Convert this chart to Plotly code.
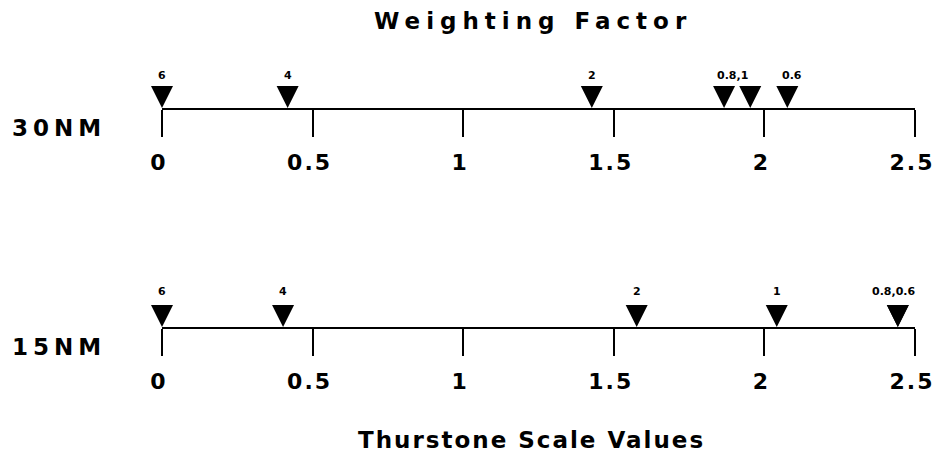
import plotly.graph_objects as go

# ---- data ----
rows = ["30NM", "15NM"]
tick_values = [0, 0.5, 1, 1.5, 2, 2.5]
tick_labels = ["0", "0.5", "1", "1.5", "2", "2.5"]

# Thurstone scale values for each weighting factor
top_values = [0, 0.417, 1.427, 1.866, 1.953, 2.076]
top_weights = ["6", "4", "2", "0.8", "1", "0.6"]
top_label_x = [0, 0.417, 1.427, 1.895, 2.09]
top_label_text = ["6", "4", "2", "0.8,1", "0.6"]

bottom_values = [0, 0.402, 1.576, 2.041, 2.443, 2.443]
bottom_weights = ["6", "4", "2", "1", "0.8", "0.6"]
bottom_label_x = [0, 0.402, 1.576, 2.041, 2.43]
bottom_label_text = ["6", "4", "2", "1", "0.8,0.6"]

title_text = "Weighting Factor"
xlabel_text = "Thurstone Scale Values"

# ---- figure ----
OFF = 8                      # page body margin
W, H = 943 - 2 * OFF, 460 - 2 * OFF
FONT = "DejaVu Sans"
BIG = dict(family=FONT, size=23, color="black", weight="bold")
TICKF = dict(family=FONT, size=22, color="black", weight="bold")


def px(x):
    return (x - OFF) / W


def py(y):
    return 1 - (y - OFF) / H


def spaced(t, s):
    return f'<span style="letter-spacing:{s}px">{t}</span>'


fig = go.Figure()
fig.add_trace(go.Scatter(x=top_values, y=[0] * len(top_values), mode="markers",
                         marker=dict(symbol="arrow-down", size=22, color="black"),
                         text=top_weights, xaxis="x", yaxis="y", cliponaxis=False,
                         showlegend=False, hoverinfo="x+text"))
fig.add_trace(go.Scatter(x=bottom_values, y=[0] * len(bottom_values), mode="markers",
                         marker=dict(symbol="arrow-down", size=22, color="black"),
                         text=bottom_weights, xaxis="x2", yaxis="y2", cliponaxis=False,
                         showlegend=False, hoverinfo="x+text"))

axis_common = dict(
    domain=[px(162), px(915)], range=[0, 2.5], showline=True, linecolor="black",
    linewidth=2, ticks="outside", ticklen=27, tickwidth=2, tickcolor="black",
    tickvals=tick_values, ticktext=[spaced(t, 2) for t in tick_labels],
    tickfont=TICKF, showgrid=False, zeroline=False, fixedrange=True,
    ticklabelstandoff=7, ticklabelshift=-3, ticklabeloverflow="allow",
)
y_common = dict(range=[0, 1], visible=False, fixedrange=True)

fig.update_layout(
    width=W, height=H, template="none",
    paper_bgcolor="white", plot_bgcolor="white",
    margin=dict(l=0, r=0, t=0, b=0),
    xaxis=dict(anchor="y", **axis_common),
    xaxis2=dict(anchor="y2", **axis_common),
    yaxis=dict(domain=[py(108), py(108) + 0.12], anchor="x", **y_common),
    yaxis2=dict(domain=[py(327), py(327) + 0.12], anchor="x2", **y_common),
)

small = dict(family=FONT, size=11, color="black", weight="bold")
ann = []
for xv, t in zip(top_label_x, top_label_text):
    ann.append(dict(x=xv, y=0, xref="x", yref="y", text=t, showarrow=False,
                    yshift=33, font=small))
for xv, t in zip(bottom_label_x, bottom_label_text):
    ann.append(dict(x=xv, y=0, xref="x2", yref="y2", text=t, showarrow=False,
                    yshift=36, font=small))

ann.append(dict(x=px(533), y=py(21), xref="paper", yref="paper",
                text=spaced(title_text, 6), showarrow=False, font=BIG,
                xanchor="center", yanchor="middle"))
ann.append(dict(x=px(531), y=py(440), xref="paper", yref="paper",
                text=spaced(xlabel_text, 2), showarrow=False, font=BIG,
                xanchor="center", yanchor="middle"))
ann.append(dict(x=px(10), y=py(128), xref="paper", yref="paper",
                text=spaced(rows[0], 5), showarrow=False, font=BIG,
                xanchor="left", yanchor="middle"))
ann.append(dict(x=px(10), y=py(347), xref="paper", yref="paper",
                text=spaced(rows[1], 5), showarrow=False, font=BIG,
                xanchor="left", yanchor="middle"))
fig.update_layout(annotations=ann)

fig.write_html("out.html")
